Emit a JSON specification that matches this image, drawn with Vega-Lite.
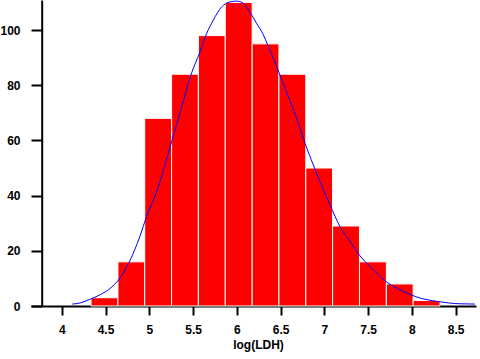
{
  "$schema": "https://vega.github.io/schema/vega-lite/v6.json",
  "width": 445,
  "height": 306,
  "autosize": {"type": "none"},
  "padding": {"left": 31, "top": 0, "right": 4, "bottom": 53},
  "background": "white",
  "config": {
    "view": {"stroke": null},
    "axis": {
      "labelFont": "Liberation Sans",
      "titleFont": "Liberation Sans",
      "labelFontWeight": "bold",
      "titleFontWeight": "bold",
      "labelFontSize": 12,
      "titleFontSize": 12,
      "labelColor": "black",
      "titleColor": "black",
      "domainColor": "black",
      "tickColor": "black",
      "domainWidth": 2,
      "tickWidth": 2,
      "grid": false
    }
  },
  "layer": [
    {
      "data": {
        "values": [
          {"bin_start": 4.335, "bin_end": 4.642, "count": 3},
          {"bin_start": 4.642, "bin_end": 4.948, "count": 16},
          {"bin_start": 4.948, "bin_end": 5.255, "count": 68},
          {"bin_start": 5.255, "bin_end": 5.561, "count": 84},
          {"bin_start": 5.561, "bin_end": 5.868, "count": 98},
          {"bin_start": 5.868, "bin_end": 6.175, "count": 110},
          {"bin_start": 6.175, "bin_end": 6.481, "count": 95},
          {"bin_start": 6.481, "bin_end": 6.788, "count": 84},
          {"bin_start": 6.788, "bin_end": 7.094, "count": 50},
          {"bin_start": 7.094, "bin_end": 7.401, "count": 29},
          {"bin_start": 7.401, "bin_end": 7.708, "count": 16},
          {"bin_start": 7.708, "bin_end": 8.014, "count": 8},
          {"bin_start": 8.014, "bin_end": 8.321, "count": 2}
        ]
      },
      "mark": {"type": "bar", "color": "#ff0000", "stroke": "white", "strokeWidth": 1},
      "encoding": {
        "x": {
          "field": "bin_start",
          "type": "quantitative",
          "scale": {"domain": [3.649, 8.732], "nice": false, "zero": false},
          "axis": {
            "title": "log(LDH)",
            "values": [4, 4.5, 5, 5.5, 6, 6.5, 7, 7.5, 8, 8.5],
            "tickSize": 9,
            "labelPadding": 9,
            "titlePadding": 4,
            "titleX": 227,
            "labelFlush": false,
            "labelOverlap": false,
            "format": "~g"
          }
        },
        "x2": {"field": "bin_end"},
        "y": {
          "field": "count",
          "type": "quantitative",
          "scale": {"domain": [0, 110.9], "nice": false},
          "axis": {
            "title": null,
            "values": [0, 20, 40, 60, 80, 100],
            "offset": -10.7,
            "tickSize": 10.7,
            "labelPadding": 11,
            "format": "d"
          }
        },
        "y2": {"datum": 0}
      }
    },
    {
      "data": {
        "values": [
          {"x": 4.12, "y": 0.7},
          {"x": 4.21, "y": 1.1},
          {"x": 4.32, "y": 2.4},
          {"x": 4.44, "y": 4.1},
          {"x": 4.55, "y": 6.3},
          {"x": 4.65, "y": 9.5},
          {"x": 4.78, "y": 16.5},
          {"x": 4.89, "y": 25},
          {"x": 4.97, "y": 32.5},
          {"x": 5.09, "y": 42},
          {"x": 5.245, "y": 58.4},
          {"x": 5.37, "y": 72.2},
          {"x": 5.485, "y": 84.6},
          {"x": 5.58, "y": 92.1},
          {"x": 5.656, "y": 98.8},
          {"x": 5.731, "y": 103.6},
          {"x": 5.827, "y": 108.4},
          {"x": 5.922, "y": 110.2},
          {"x": 6.0, "y": 110.5},
          {"x": 6.08, "y": 109.6},
          {"x": 6.15, "y": 106.5},
          {"x": 6.227, "y": 102.4},
          {"x": 6.3, "y": 98.5},
          {"x": 6.35, "y": 94.8},
          {"x": 6.417, "y": 89.7},
          {"x": 6.493, "y": 83.7},
          {"x": 6.588, "y": 75.9},
          {"x": 6.684, "y": 68},
          {"x": 6.779, "y": 59},
          {"x": 6.874, "y": 51.1},
          {"x": 6.95, "y": 45.1},
          {"x": 7.064, "y": 36.7},
          {"x": 7.178, "y": 28.8},
          {"x": 7.293, "y": 23.4},
          {"x": 7.407, "y": 18.2},
          {"x": 7.521, "y": 14.3},
          {"x": 7.712, "y": 8.7},
          {"x": 7.9, "y": 5.3},
          {"x": 8.092, "y": 2.9},
          {"x": 8.283, "y": 1.7},
          {"x": 8.55, "y": 0.8},
          {"x": 8.72, "y": 0.7}
        ]
      },
      "mark": {"type": "line", "color": "#0000ff", "strokeWidth": 1, "interpolate": "monotone"},
      "encoding": {
        "x": {"field": "x", "type": "quantitative", "title": "log(LDH)"},
        "y": {"field": "y", "type": "quantitative", "title": null}
      }
    }
  ]
}
